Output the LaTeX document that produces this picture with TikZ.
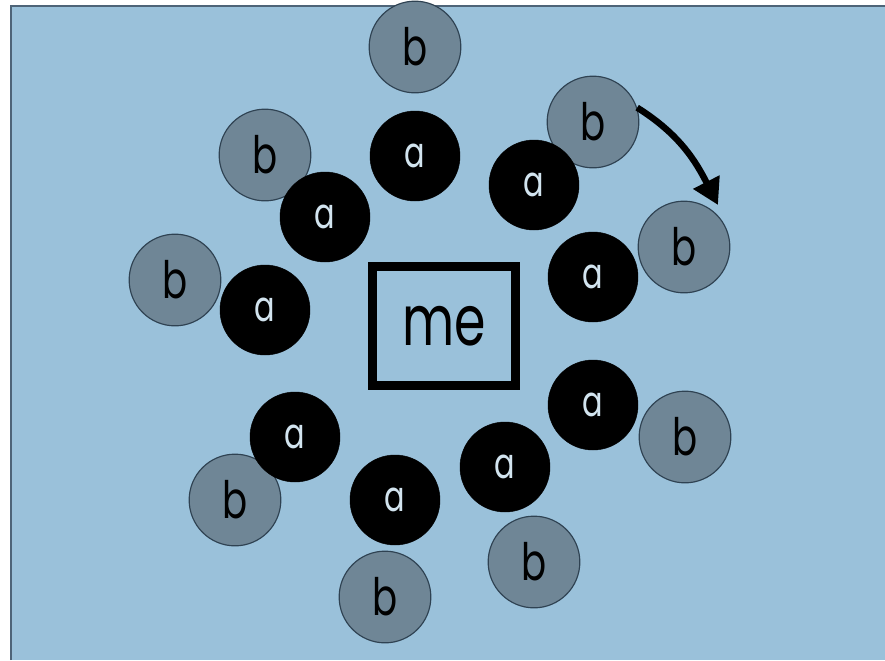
\documentclass[tikz,border=0pt]{standalone}
\usepackage{xcolor}
\usepackage{fontspec}
\usepackage{tikz}
\usetikzlibrary{arrows.meta}
\newfontfamily\handfont[FakeStretch=0.72]{Poppins}

\definecolor{skyback}{HTML}{9AC1DA}
\definecolor{frameline}{HTML}{4E6478}
\definecolor{ballgray}{HTML}{6F8696}
\definecolor{ballrim}{HTML}{2F4252}
\definecolor{letterlight}{HTML}{D2E4EF}

\tikzset{
  ballA/.style={circle,fill=black,draw=black,minimum size=2.7cm,inner sep=0pt,
    text=letterlight,font=\handfont\fontsize{36}{36}\selectfont},
  ballB/.style={circle,fill=ballgray,draw=ballrim,line width=1pt,minimum size=2.75cm,
    inner sep=0pt,text=black,font=\handfont\fontsize{44}{44}\selectfont},
  mebox/.style={draw=black,line width=7.5pt,minimum width=4.3cm,minimum height=3.55cm,
    inner sep=0pt,font=\handfont\fontsize{60}{60}\selectfont}
}

\begin{document}
\begin{tikzpicture}[x=0.03cm,y=-0.03cm]
    \useasboundingbox (0,0) rectangle (885,660);
    % Background
    \fill[white] (0,0) rectangle (885,660);
    \fill[skyback] (11,6) rectangle (885,660);
    \draw[frameline,line width=2.5pt] (11,660) -- (11,6) -- (885,6);
    % Balls: a near the box, b outside
    \foreach \ax/\ay/\bx/\by [count=\i] in
        {415/156/415/47, 325/217/265/155, 265/310/175/280,
         295/437/235/500, 395/500/385/597, 505/467/534/562,
         593/405/685/437, 593/277/684/247, 534/185/593/122} {
        \node[ballB] (b\i) at (\bx,\by) {b};
        \node[ballA] (a\i) at (\ax,\ay) {a};
    }
    % Centre
    \node[mebox] (me) at (444,326) {me};
    % Turn
    \coordinate (turn) at (718,205);
    \draw[line width=5.5pt,-{Triangle[length=22pt,width=24pt]}]
        (b9.18) to[out=-32,in=117] (turn);
\end{tikzpicture}
\end{document}
